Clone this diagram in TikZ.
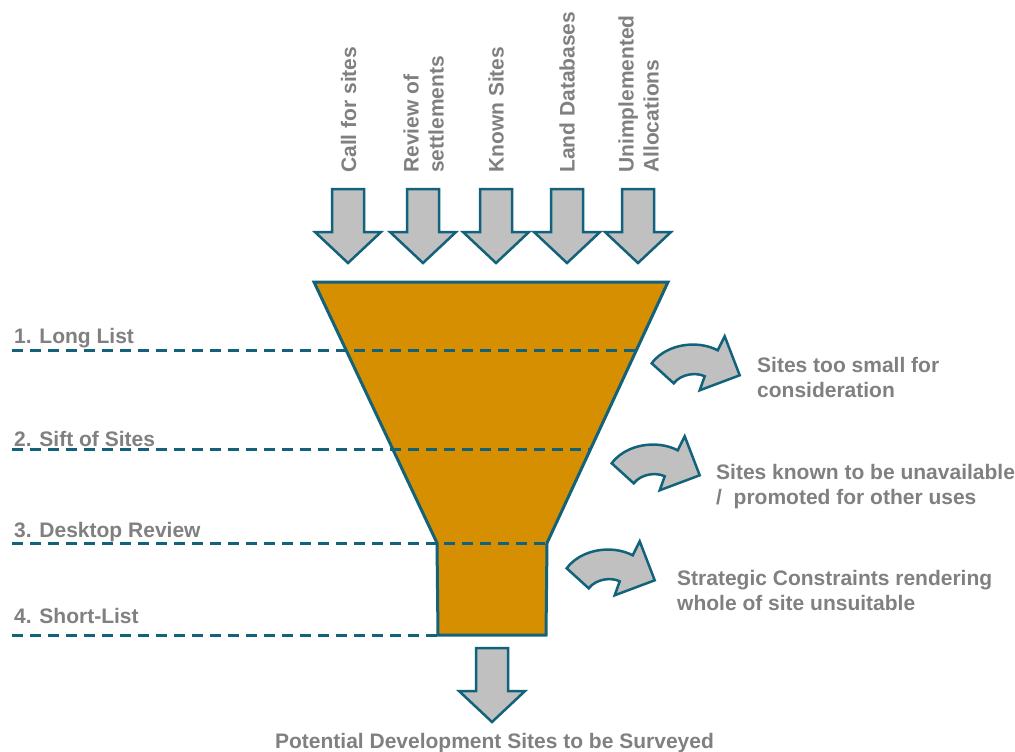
\documentclass[tikz,border=0pt]{standalone}
\usepackage{fontspec}
\setmainfont{Liberation Sans}
\definecolor{tealline}{RGB}{17,98,122}
\definecolor{funnelfill}{RGB}{214,143,0}
\definecolor{arrowfill}{RGB}{192,192,192}
\definecolor{txtgray}{RGB}{128,128,128}
\tikzset{
  lab/.style={font=\fontsize{21}{25}\selectfont\bfseries, text=txtgray, inner sep=0pt, anchor=base west},
  rotlab/.style={lab, rotate=90},
  funnelshape/.style={draw=tealline, fill=funnelfill, line width=3pt, line join=miter},
  levelline/.style={draw=tealline, line width=3pt, dash pattern=on 11pt off 7pt},
  arrowshape/.style={draw=tealline, fill=arrowfill, line width=2.5pt, line join=miter, miter limit=10},
  downarrow/.pic={\path[arrowshape] (-16,0) -- (16,0) -- (16,43) -- (33,43) -- (0,74) -- (-33,43) -- (-16,43) -- cycle;},
  curvearrow/.pic={\path[arrowshape] (0,0) .. controls (14,-19) and (45,-24) .. (66,-13) -- (73,-27) -- (88,12) -- (48,27) -- (53,13) .. controls (45,9) and (30,10) .. (22,20) -- cycle;}
}
\begin{document}
\begin{tikzpicture}[x=1pt,y=-1pt]
\useasboundingbox (0,0) rectangle (1015,752);
% funnel
\coordinate (ftl) at (314,282);
\coordinate (ftr) at (668,282);
\coordinate (fmr) at (547,543);
\coordinate (fbr) at (546,635);
\coordinate (fbl) at (438,635);
\coordinate (fml) at (437,543);
\path[funnelshape] (ftl) -- (ftr) -- (fmr) -- (fbr) -- (fbl) -- (fml) -- cycle;
% level lines
\coordinate (d1s) at (12,350); \coordinate (d1e) at (637,350);
\coordinate (d2s) at (12,449); \coordinate (d2e) at (591,449);
\coordinate (d3s) at (12,543); \coordinate (d3e) at (547,543);
\coordinate (d4s) at (12,635); \coordinate (d4e) at (438,635);
\draw[levelline] (d1s) -- (d1e);
\draw[levelline] (d2s) -- (d2e);
\draw[levelline] (d3s) -- (d3e);
\draw[levelline] (d4s) -- (d4e);
% input arrows
\pic at (348,189) {downarrow};
\pic at (423,189) {downarrow};
\pic at (496,189) {downarrow};
\pic at (567,189) {downarrow};
\pic at (638,189) {downarrow};
% output arrow
\pic at (492,648) {downarrow};
% curved arrows
\pic at (651.7,363.3) {curvearrow};
\pic at (611.7,463.3) {curvearrow};
\pic at (566.7,568.3) {curvearrow};
% rotated labels
\node[rotlab] (t1) at (356,173) {Call for sites};
\node[rotlab] (t2a) at (418.5,173) {Review of};
\node[rotlab] (t2b) at (443.5,173) {settlements};
\node[rotlab] (t3) at (503.5,173) {Known Sites};
\node[rotlab] (t4) at (574.5,173) {Land Databases};
\node[rotlab] (t5a) at (633.5,173) {Unimplemented};
\node[rotlab] (t5b) at (658.5,173) {Allocations};
% level labels
\node[lab] (l1) at (14,343) {1. Long List};
\node[lab] (l2) at (14,446) {2. Sift of Sites};
\node[lab] (l3) at (14,537) {3. Desktop Review};
\node[lab] (l4) at (14,623) {4. Short-List};
% outcome labels
\node[lab] (r1a) at (757,372) {Sites too small for};
\node[lab] (r1b) at (757,397) {consideration};
\node[lab] (r2a) at (716,479) {Sites known to be unavailable};
\node[lab] (r2b) at (716,504) {/~~promoted for other uses};
\node[lab] (r3a) at (677,585.5) {Strategic Constraints rendering};
\node[lab] (r3b) at (677,610.5) {whole of site unsuitable};
% bottom label
\node[lab, anchor=base] (b1) at (494.5,748) {Potential Development Sites to be Surveyed};
\end{tikzpicture}
\end{document}
